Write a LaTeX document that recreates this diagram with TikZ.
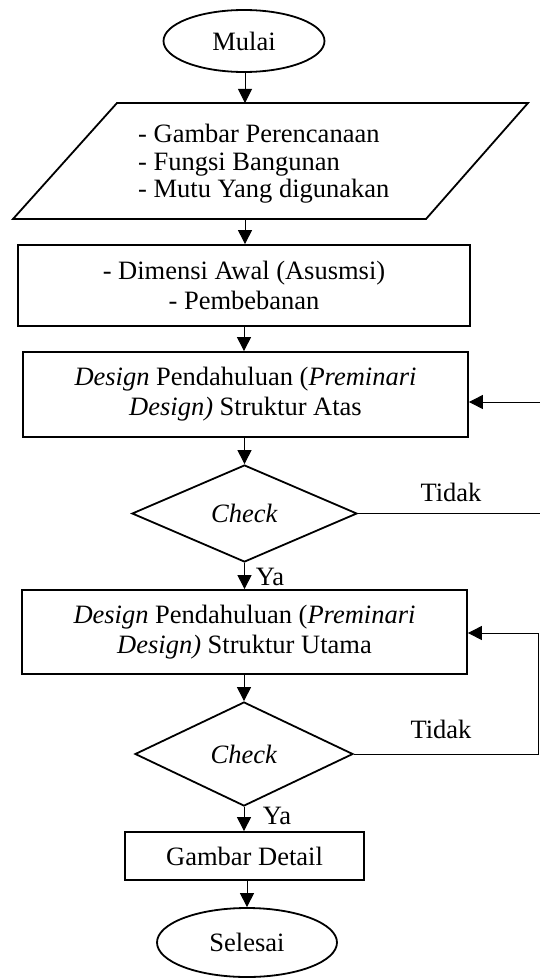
\documentclass[tikz,border=0pt]{standalone}
\usepackage{fontspec}
\setmainfont{Liberation Serif}
\usetikzlibrary{shapes.geometric,arrows.meta}
\begin{document}
\begin{tikzpicture}[x=1pt,y=-1pt,
  every node/.style={font=\fontsize{26.5}{30}\selectfont, inner sep=0pt},
  term/.style={draw, ellipse, line width=1.8pt},
  proc/.style={draw, rectangle, line width=1.8pt, align=center},
  dec/.style={draw, diamond, line width=1.8pt},
  arr/.style={line width=1pt, -{Triangle[length=14pt,width=14pt]}},
  conn/.style={line width=1pt}]
\useasboundingbox (0,0) rectangle (540,979);
% start
\node[term, minimum width=161pt, minimum height=62pt] (mulai) at (244,41) {Mulai};
% input parallelogram
\coordinate (pa) at (117,103);
\coordinate (pb) at (528,103);
\coordinate (pc) at (426,219);
\coordinate (pd) at (13,219);
\draw[line width=1.8pt, line join=miter] (pa) -- (pb) -- (pc) -- (pd) -- cycle;
\node[anchor=west, align=left, font=\fontsize{26.5}{27.5}\selectfont] (input) at (138,164)
  {- Gambar Perencanaan\\- Fungsi Bangunan\\- Mutu Yang digunakan};
\coordinate (ptop) at (245,103);
\coordinate (pbot) at (245,219);
% boxes
\node[proc, minimum width=452pt, minimum height=81pt] (dim) at (244,285.5)
  {- Dimensi Awal (Asusmsi)\\- Pembebanan};
\node[proc, minimum width=445pt, minimum height=85pt] (atas) at (245.5,394.5)
  {\textit{Design} Pendahuluan (\textit{Preminari}\\\textit{Design)} Struktur Atas};
\node[dec, minimum width=225pt, minimum height=97pt] (c1) at (244.5,513.5) {\textit{Check}};
\node[proc, minimum width=445pt, minimum height=84pt] (utama) at (244.5,632)
  {\textit{Design} Pendahuluan (\textit{Preminari}\\\textit{Design)} Struktur Utama};
\node[dec, minimum width=218pt, minimum height=104pt] (c2) at (244,754) {\textit{Check}};
\node[proc, minimum width=239pt, minimum height=48pt] (detail) at (244.5,856) {Gambar Detail};
\node[term, minimum width=180pt, minimum height=69pt] (selesai) at (247,942.5) {Selesai};
% labels
\node (t1) at (451,492) {Tidak};
\node (y1) at (270,577) {Ya};
\node (t2) at (441,729) {Tidak};
\node (y2) at (277,816) {Ya};
% loop coordinates
\coordinate (r1) at (540,402);
\coordinate (r2) at (540,513.5);
\coordinate (q1) at (538,754);
\coordinate (q2) at (538,633);
% connectors
\draw[arr] (mulai.south -| ptop) -- (ptop);
\draw[arr] (pbot) -- (pbot |- dim.north);
\draw[arr] (dim.south) -- (atas.north -| dim.south);
\draw[arr] (atas.south -| c1.north) -- (c1.north);
\draw[arr] (c1.south) -- (utama.north -| c1.south);
\draw[arr] (utama.south -| c2.north) -- (c2.north);
\draw[arr] (c2.south) -- (detail.north -| c2.south);
\draw[arr] (detail.south -| selesai.north) -- (selesai.north);
\draw[conn] (c1.east) -- (r2);
\draw[arr] (r1) -- (atas.east |- r1);
\draw[arr] (c2.east) -- (q1) -- (q2) -- (utama.east |- q2);
\end{tikzpicture}
\end{document}
